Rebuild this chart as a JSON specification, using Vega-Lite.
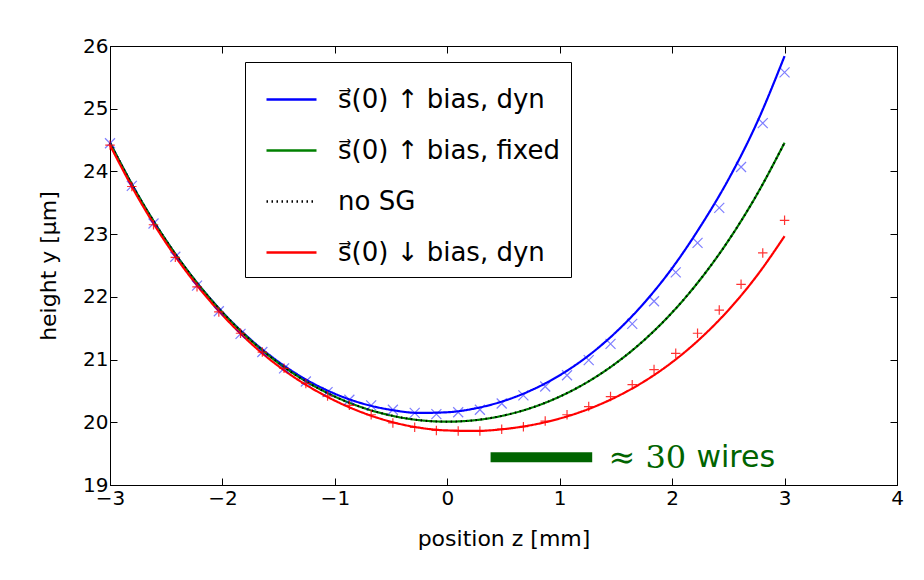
{
  "$schema": "https://vega.github.io/schema/vega-lite/v6.json",
  "width": 787,
  "height": 439,
  "autosize": "none",
  "padding": {"left": 110, "top": 46, "right": 27, "bottom": 95},
  "background": "white",
  "config": {
    "view": {"stroke": "black", "strokeWidth": 1},
    "axis": {
      "domainColor": "black", "tickColor": "black", "labelColor": "black", "titleColor": "black",
      "labelFont": "DejaVu Sans", "titleFont": "DejaVu Sans", "labelFontSize": 20, "titleFontSize": 22,
      "titleFontWeight": "normal", "grid": false, "tickSize": -7, "labelPadding": 8, "labelFlush": false, "labelOverlap": false
    }
  },
  "resolve": {"axis": {"x": "independent", "y": "independent"}},
  "datasets": {
    "curves": [
      {"series": "s⃗(0) ↑ bias, dyn", "z": -3, "y": 24.458},
      {"series": "s⃗(0) ↑ bias, dyn", "z": -2.75, "y": 23.619},
      {"series": "s⃗(0) ↑ bias, dyn", "z": -2.5, "y": 22.896},
      {"series": "s⃗(0) ↑ bias, dyn", "z": -2.25, "y": 22.279},
      {"series": "s⃗(0) ↑ bias, dyn", "z": -2, "y": 21.757},
      {"series": "s⃗(0) ↑ bias, dyn", "z": -1.75, "y": 21.321},
      {"series": "s⃗(0) ↑ bias, dyn", "z": -1.5, "y": 20.963},
      {"series": "s⃗(0) ↑ bias, dyn", "z": -1.25, "y": 20.675},
      {"series": "s⃗(0) ↑ bias, dyn", "z": -1, "y": 20.455},
      {"series": "s⃗(0) ↑ bias, dyn", "z": -0.75, "y": 20.297},
      {"series": "s⃗(0) ↑ bias, dyn", "z": -0.5, "y": 20.198},
      {"series": "s⃗(0) ↑ bias, dyn", "z": -0.25, "y": 20.149},
      {"series": "s⃗(0) ↑ bias, dyn", "z": 0, "y": 20.16},
      {"series": "s⃗(0) ↑ bias, dyn", "z": 0.25, "y": 20.222},
      {"series": "s⃗(0) ↑ bias, dyn", "z": 0.5, "y": 20.339},
      {"series": "s⃗(0) ↑ bias, dyn", "z": 0.75, "y": 20.513},
      {"series": "s⃗(0) ↑ bias, dyn", "z": 1, "y": 20.75},
      {"series": "s⃗(0) ↑ bias, dyn", "z": 1.25, "y": 21.055},
      {"series": "s⃗(0) ↑ bias, dyn", "z": 1.5, "y": 21.437},
      {"series": "s⃗(0) ↑ bias, dyn", "z": 1.75, "y": 21.901},
      {"series": "s⃗(0) ↑ bias, dyn", "z": 2, "y": 22.458},
      {"series": "s⃗(0) ↑ bias, dyn", "z": 2.25, "y": 23.119},
      {"series": "s⃗(0) ↑ bias, dyn", "z": 2.5, "y": 23.87},
      {"series": "s⃗(0) ↑ bias, dyn", "z": 2.75, "y": 24.76},
      {"series": "s⃗(0) ↑ bias, dyn", "z": 3, "y": 25.839},

      {"series": "s⃗(0) ↑ bias, fixed", "z": -3, "y": 24.458},
      {"series": "s⃗(0) ↑ bias, fixed", "z": -2.75, "y": 23.619},
      {"series": "s⃗(0) ↑ bias, fixed", "z": -2.5, "y": 22.896},
      {"series": "s⃗(0) ↑ bias, fixed", "z": -2.25, "y": 22.277},
      {"series": "s⃗(0) ↑ bias, fixed", "z": -2, "y": 21.751},
      {"series": "s⃗(0) ↑ bias, fixed", "z": -1.75, "y": 21.309},
      {"series": "s⃗(0) ↑ bias, fixed", "z": -1.5, "y": 20.943},
      {"series": "s⃗(0) ↑ bias, fixed", "z": -1.25, "y": 20.645},
      {"series": "s⃗(0) ↑ bias, fixed", "z": -1, "y": 20.41},
      {"series": "s⃗(0) ↑ bias, fixed", "z": -0.75, "y": 20.232},
      {"series": "s⃗(0) ↑ bias, fixed", "z": -0.5, "y": 20.108},
      {"series": "s⃗(0) ↑ bias, fixed", "z": -0.25, "y": 20.034},
      {"series": "s⃗(0) ↑ bias, fixed", "z": 0, "y": 20.01},
      {"series": "s⃗(0) ↑ bias, fixed", "z": 0.25, "y": 20.034},
      {"series": "s⃗(0) ↑ bias, fixed", "z": 0.5, "y": 20.108},
      {"series": "s⃗(0) ↑ bias, fixed", "z": 0.75, "y": 20.232},
      {"series": "s⃗(0) ↑ bias, fixed", "z": 1, "y": 20.41},
      {"series": "s⃗(0) ↑ bias, fixed", "z": 1.25, "y": 20.645},
      {"series": "s⃗(0) ↑ bias, fixed", "z": 1.5, "y": 20.943},
      {"series": "s⃗(0) ↑ bias, fixed", "z": 1.75, "y": 21.309},
      {"series": "s⃗(0) ↑ bias, fixed", "z": 2, "y": 21.751},
      {"series": "s⃗(0) ↑ bias, fixed", "z": 2.25, "y": 22.277},
      {"series": "s⃗(0) ↑ bias, fixed", "z": 2.5, "y": 22.896},
      {"series": "s⃗(0) ↑ bias, fixed", "z": 2.75, "y": 23.619},
      {"series": "s⃗(0) ↑ bias, fixed", "z": 3, "y": 24.458},

      {"series": "\u2003no SG", "z": -3, "y": 24.458},
      {"series": "\u2003no SG", "z": -2.75, "y": 23.619},
      {"series": "\u2003no SG", "z": -2.5, "y": 22.896},
      {"series": "\u2003no SG", "z": -2.25, "y": 22.277},
      {"series": "\u2003no SG", "z": -2, "y": 21.751},
      {"series": "\u2003no SG", "z": -1.75, "y": 21.309},
      {"series": "\u2003no SG", "z": -1.5, "y": 20.943},
      {"series": "\u2003no SG", "z": -1.25, "y": 20.645},
      {"series": "\u2003no SG", "z": -1, "y": 20.41},
      {"series": "\u2003no SG", "z": -0.75, "y": 20.232},
      {"series": "\u2003no SG", "z": -0.5, "y": 20.108},
      {"series": "\u2003no SG", "z": -0.25, "y": 20.034},
      {"series": "\u2003no SG", "z": 0, "y": 20.01},
      {"series": "\u2003no SG", "z": 0.25, "y": 20.034},
      {"series": "\u2003no SG", "z": 0.5, "y": 20.108},
      {"series": "\u2003no SG", "z": 0.75, "y": 20.232},
      {"series": "\u2003no SG", "z": 1, "y": 20.41},
      {"series": "\u2003no SG", "z": 1.25, "y": 20.645},
      {"series": "\u2003no SG", "z": 1.5, "y": 20.943},
      {"series": "\u2003no SG", "z": 1.75, "y": 21.309},
      {"series": "\u2003no SG", "z": 2, "y": 21.751},
      {"series": "\u2003no SG", "z": 2.25, "y": 22.277},
      {"series": "\u2003no SG", "z": 2.5, "y": 22.896},
      {"series": "\u2003no SG", "z": 2.75, "y": 23.619},
      {"series": "\u2003no SG", "z": 3, "y": 24.458},

      {"series": "s⃗(0) ↓ bias, dyn", "z": -3, "y": 24.418},
      {"series": "s⃗(0) ↓ bias, dyn", "z": -2.75, "y": 23.579},
      {"series": "s⃗(0) ↓ bias, dyn", "z": -2.5, "y": 22.856},
      {"series": "s⃗(0) ↓ bias, dyn", "z": -2.25, "y": 22.237},
      {"series": "s⃗(0) ↓ bias, dyn", "z": -2, "y": 21.711},
      {"series": "s⃗(0) ↓ bias, dyn", "z": -1.75, "y": 21.264},
      {"series": "s⃗(0) ↓ bias, dyn", "z": -1.5, "y": 20.893},
      {"series": "s⃗(0) ↓ bias, dyn", "z": -1.25, "y": 20.59},
      {"series": "s⃗(0) ↓ bias, dyn", "z": -1, "y": 20.345},
      {"series": "s⃗(0) ↓ bias, dyn", "z": -0.75, "y": 20.152},
      {"series": "s⃗(0) ↓ bias, dyn", "z": -0.5, "y": 20.008},
      {"series": "s⃗(0) ↓ bias, dyn", "z": -0.25, "y": 19.914},
      {"series": "s⃗(0) ↓ bias, dyn", "z": 0, "y": 19.87},
      {"series": "s⃗(0) ↓ bias, dyn", "z": 0.25, "y": 19.862},
      {"series": "s⃗(0) ↓ bias, dyn", "z": 0.5, "y": 19.891},
      {"series": "s⃗(0) ↓ bias, dyn", "z": 0.75, "y": 19.956},
      {"series": "s⃗(0) ↓ bias, dyn", "z": 1, "y": 20.06},
      {"series": "s⃗(0) ↓ bias, dyn", "z": 1.25, "y": 20.207},
      {"series": "s⃗(0) ↓ bias, dyn", "z": 1.5, "y": 20.402},
      {"series": "s⃗(0) ↓ bias, dyn", "z": 1.75, "y": 20.65},
      {"series": "s⃗(0) ↓ bias, dyn", "z": 2, "y": 20.958},
      {"series": "s⃗(0) ↓ bias, dyn", "z": 2.25, "y": 21.335},
      {"series": "s⃗(0) ↓ bias, dyn", "z": 2.5, "y": 21.788},
      {"series": "s⃗(0) ↓ bias, dyn", "z": 2.75, "y": 22.328},
      {"series": "s⃗(0) ↓ bias, dyn", "z": 3, "y": 22.968}
    ],
    "markers": [
      {"kind": "x", "z": -3, "y": 24.45}, {"kind": "x", "z": -2.806, "y": 23.77}, {"kind": "x", "z": -2.613, "y": 23.17},
      {"kind": "x", "z": -2.419, "y": 22.64}, {"kind": "x", "z": -2.226, "y": 22.18}, {"kind": "x", "z": -2.032, "y": 21.77},
      {"kind": "x", "z": -1.839, "y": 21.41}, {"kind": "x", "z": -1.645, "y": 21.12}, {"kind": "x", "z": -1.452, "y": 20.86},
      {"kind": "x", "z": -1.258, "y": 20.65}, {"kind": "x", "z": -1.065, "y": 20.48}, {"kind": "x", "z": -0.871, "y": 20.36},
      {"kind": "x", "z": -0.677, "y": 20.27}, {"kind": "x", "z": -0.484, "y": 20.2}, {"kind": "x", "z": -0.29, "y": 20.15},
      {"kind": "x", "z": -0.097, "y": 20.13}, {"kind": "x", "z": 0.097, "y": 20.16}, {"kind": "x", "z": 0.29, "y": 20.2},
      {"kind": "x", "z": 0.484, "y": 20.3}, {"kind": "x", "z": 0.677, "y": 20.43}, {"kind": "x", "z": 0.871, "y": 20.57},
      {"kind": "x", "z": 1.065, "y": 20.75}, {"kind": "x", "z": 1.258, "y": 20.99}, {"kind": "x", "z": 1.452, "y": 21.25},
      {"kind": "x", "z": 1.645, "y": 21.57}, {"kind": "x", "z": 1.839, "y": 21.93}, {"kind": "x", "z": 2.032, "y": 22.39},
      {"kind": "x", "z": 2.226, "y": 22.86}, {"kind": "x", "z": 2.419, "y": 23.42}, {"kind": "x", "z": 2.613, "y": 24.07},
      {"kind": "x", "z": 2.806, "y": 24.77}, {"kind": "x", "z": 3.0, "y": 25.58},
      {"kind": "+", "z": -3, "y": 24.42}, {"kind": "+", "z": -2.806, "y": 23.76}, {"kind": "+", "z": -2.613, "y": 23.15},
      {"kind": "+", "z": -2.419, "y": 22.63}, {"kind": "+", "z": -2.226, "y": 22.16}, {"kind": "+", "z": -2.032, "y": 21.76},
      {"kind": "+", "z": -1.839, "y": 21.42}, {"kind": "+", "z": -1.645, "y": 21.12}, {"kind": "+", "z": -1.452, "y": 20.86},
      {"kind": "+", "z": -1.258, "y": 20.62}, {"kind": "+", "z": -1.065, "y": 20.42}, {"kind": "+", "z": -0.871, "y": 20.27},
      {"kind": "+", "z": -0.677, "y": 20.12}, {"kind": "+", "z": -0.484, "y": 19.99}, {"kind": "+", "z": -0.29, "y": 19.92},
      {"kind": "+", "z": -0.097, "y": 19.87}, {"kind": "+", "z": 0.097, "y": 19.86}, {"kind": "+", "z": 0.29, "y": 19.86},
      {"kind": "+", "z": 0.484, "y": 19.89}, {"kind": "+", "z": 0.677, "y": 19.93}, {"kind": "+", "z": 0.871, "y": 20.02},
      {"kind": "+", "z": 1.065, "y": 20.12}, {"kind": "+", "z": 1.258, "y": 20.25}, {"kind": "+", "z": 1.452, "y": 20.41},
      {"kind": "+", "z": 1.645, "y": 20.6}, {"kind": "+", "z": 1.839, "y": 20.84}, {"kind": "+", "z": 2.032, "y": 21.1},
      {"kind": "+", "z": 2.226, "y": 21.42}, {"kind": "+", "z": 2.419, "y": 21.79}, {"kind": "+", "z": 2.613, "y": 22.2},
      {"kind": "+", "z": 2.806, "y": 22.7}, {"kind": "+", "z": 3.0, "y": 23.22}
    ],
    "bar": [{"z1": 0.385, "z2": 1.289, "y": 19.443}],
    "notes": [
      {"z": 1.434, "y": 19.27, "text": "≈ 30", "font": "serif"},
      {"z": 2.216, "y": 19.29, "text": "wires", "font": "sans"}
    ]
  },
  "layer": [
    {
      "data": {"name": "curves"},
      "transform": [{"filter": "datum.series === 's⃗(0) ↑ bias, dyn'"}],
      "mark": {"type": "line", "strokeWidth": 2.2, "interpolate": "monotone"},
      "encoding": {
        "x": {"field": "z", "type": "quantitative", "scale": {"domain": [-3, 4], "nice": false, "zero": false},
              "axis": {"orient": "bottom", "values": [-3, -2, -1, 0, 1, 2, 3, 4], "title": "position z [mm]", "titlePadding": 20, "labelPadding": 10}},
        "y": {"field": "y", "type": "quantitative", "scale": {"domain": [19, 26], "nice": false, "zero": false},
              "axis": {"orient": "left", "values": [19, 20, 21, 22, 23, 24, 25, 26], "title": "height y [μm]", "titlePadding": 22, "labelPadding": 9}},
        "color": {"field": "series", "type": "nominal",
          "scale": {"domain": ["s⃗(0) ↑ bias, dyn", "s⃗(0) ↑ bias, fixed", "\u2003no SG", "s⃗(0) ↓ bias, dyn"], "range": ["#0000ff", "#008000", "#000000", "#ff0000"]},
          "legend": {"title": null, "orient": "none", "legendX": 135, "legendY": 16, "padding": 11, "strokeColor": "black", "fillColor": "white",
                     "symbolType": "stroke", "symbolSize": 2500, "symbolStrokeWidth": 2.5, "symbolOffset": 9, "labelOffset": 20,
                     "labelFontSize": 26, "labelFont": "DejaVu Sans", "labelColor": "black", "rowPadding": 11, "labelLimit": 400, "cornerRadius": 0}},
        "strokeDash": {"field": "series", "type": "nominal",
          "scale": {"domain": ["s⃗(0) ↑ bias, dyn", "s⃗(0) ↑ bias, fixed", "\u2003no SG", "s⃗(0) ↓ bias, dyn"], "range": [[1, 0], [1, 0], [1.5, 3.5], [1, 0]]},
          "legend": {"title": null, "orient": "none", "legendX": 135, "legendY": 16, "padding": 11, "strokeColor": "black", "fillColor": "white",
                     "symbolType": "stroke", "symbolSize": 2500, "symbolStrokeWidth": 2.5, "symbolOffset": 9, "labelOffset": 20,
                     "labelFontSize": 26, "labelFont": "DejaVu Sans", "labelColor": "black", "rowPadding": 11, "labelLimit": 400, "cornerRadius": 0}}
      }
    },
    {
      "data": {"name": "curves"},
      "transform": [{"filter": "datum.series === 's⃗(0) ↑ bias, fixed'"}],
      "mark": {"type": "line", "strokeWidth": 2.2, "interpolate": "monotone"},
      "encoding": {
        "x": {"field": "z", "type": "quantitative", "axis": {"orient": "top", "values": [-3, -2, -1, 0, 1, 2, 3, 4], "labels": false, "title": null, "domain": false}},
        "y": {"field": "y", "type": "quantitative", "axis": {"orient": "right", "values": [19, 20, 21, 22, 23, 24, 25, 26], "labels": false, "title": null, "domain": false}},
        "color": {"field": "series", "type": "nominal"},
        "strokeDash": {"field": "series", "type": "nominal"}
      }
    },
    {
      "data": {"name": "curves"},
      "transform": [{"filter": "datum.series === '\u2003no SG'"}],
      "mark": {"type": "line", "strokeWidth": 2, "interpolate": "monotone"},
      "encoding": {
        "x": {"field": "z", "type": "quantitative", "axis": null},
        "y": {"field": "y", "type": "quantitative", "axis": null},
        "color": {"field": "series", "type": "nominal"},
        "strokeDash": {"field": "series", "type": "nominal"}
      }
    },
    {
      "data": {"name": "curves"},
      "transform": [{"filter": "datum.series === 's⃗(0) ↓ bias, dyn'"}],
      "mark": {"type": "line", "strokeWidth": 2.2, "interpolate": "monotone"},
      "encoding": {
        "x": {"field": "z", "type": "quantitative", "axis": null},
        "y": {"field": "y", "type": "quantitative", "axis": null},
        "color": {"field": "series", "type": "nominal"},
        "strokeDash": {"field": "series", "type": "nominal"}
      }
    },
    {
      "data": {"name": "markers"},
      "transform": [{"filter": "datum.kind === 'x'"}],
      "mark": {"type": "point", "shape": "M-1,-1L1,1M-1,1L1,-1", "filled": false, "size": 100, "strokeWidth": 1.2, "color": "#0000ff", "opacity": 0.5},
      "encoding": {
        "x": {"field": "z", "type": "quantitative", "axis": null},
        "y": {"field": "y", "type": "quantitative", "axis": null}
      }
    },
    {
      "data": {"name": "markers"},
      "transform": [{"filter": "datum.kind === '+'"}],
      "mark": {"type": "point", "shape": "M-1,0L1,0M0,-1L0,1", "filled": false, "size": 90, "strokeWidth": 1.2, "color": "#ff0000", "opacity": 0.8},
      "encoding": {
        "x": {"field": "z", "type": "quantitative", "axis": null},
        "y": {"field": "y", "type": "quantitative", "axis": null}
      }
    },
    {
      "data": {"name": "bar"},
      "mark": {"type": "rule", "strokeWidth": 10, "color": "#006400", "strokeCap": "butt"},
      "encoding": {
        "x": {"field": "z1", "type": "quantitative", "axis": null},
        "x2": {"field": "z2"},
        "y": {"field": "y", "type": "quantitative", "axis": null}
      }
    },
    {
      "data": {"name": "notes"},
      "transform": [{"filter": "datum.font === 'serif'"}],
      "mark": {"type": "text", "align": "left", "baseline": "alphabetic", "font": "DejaVu Serif", "fontSize": 32, "color": "#006400"},
      "encoding": {
        "x": {"field": "z", "type": "quantitative", "axis": null},
        "y": {"field": "y", "type": "quantitative", "axis": null},
        "text": {"field": "text"}
      }
    },
    {
      "data": {"name": "notes"},
      "transform": [{"filter": "datum.font === 'sans'"}],
      "mark": {"type": "text", "align": "left", "baseline": "alphabetic", "font": "DejaVu Sans", "fontSize": 30, "color": "#006400"},
      "encoding": {
        "x": {"field": "z", "type": "quantitative", "axis": null},
        "y": {"field": "y", "type": "quantitative", "axis": null},
        "text": {"field": "text"}
      }
    }
  ]
}
